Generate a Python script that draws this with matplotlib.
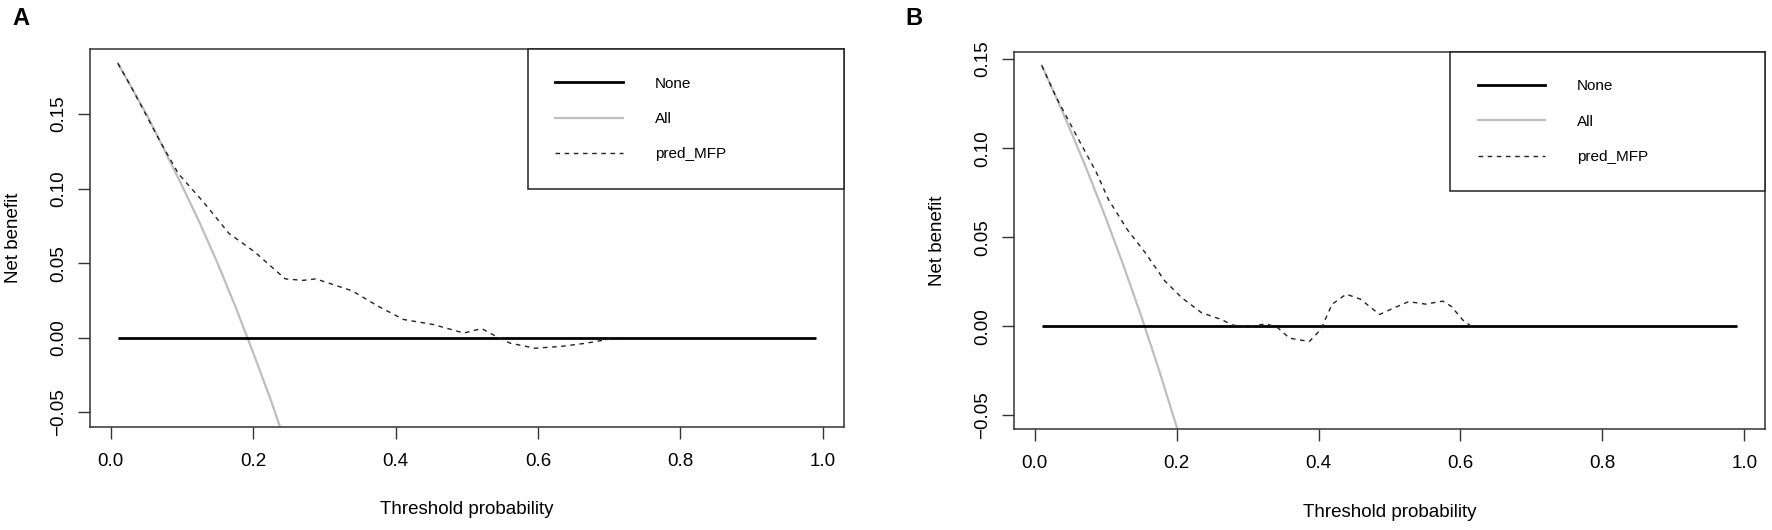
import matplotlib
matplotlib.use("Agg")
import matplotlib.pyplot as plt
from matplotlib.lines import Line2D

plt.rcParams['font.family'] = ['Liberation Sans', 'DejaVu Sans']

# ---------------- data ----------------
labels = ["None", "All", "pred_MFP"]
x_ticks = [0.0, 0.2, 0.4, 0.6, 0.8, 1.0]
y_ticks = [-0.05, 0.00, 0.05, 0.10, 0.15]

none_x = [0.01, 0.99]
none_y = [0.0, 0.0]

# Panel A
a_all_x = [0.01, 0.03, 0.05, 0.07, 0.10, 0.125, 0.15, 0.175, 0.20, 0.225, 0.25]
a_all_y = [0.184, 0.167, 0.150, 0.131, 0.102, 0.077, 0.050, 0.021, -0.010, -0.042, -0.077]
a_mfp_x = [0.01, 0.03, 0.05, 0.07, 0.095, 0.131, 0.166, 0.202, 0.245, 0.270, 0.288, 0.339,
           0.375, 0.411, 0.453, 0.496, 0.521, 0.543, 0.561, 0.596, 0.632, 0.668,
           0.700, 0.710]
a_mfp_y = [0.184, 0.167, 0.149, 0.131, 0.110, 0.0905, 0.070, 0.0576, 0.0395, 0.0385, 0.0395, 0.0315,
           0.0213, 0.0123, 0.0089, 0.0032, 0.0062, 0.0005, -0.0036, -0.0070, -0.0058, -0.0036,
           -0.0009, 0.0]
a_ylim = (-0.0596, 0.1936)

# Panel B
b_all_x = [0.01, 0.03, 0.05, 0.075, 0.10, 0.125, 0.15, 0.175, 0.20, 0.21]
b_all_y = [0.1464, 0.1288, 0.1104, 0.0864, 0.0610, 0.0342, 0.0058, -0.0244, -0.0564, -0.0696]
b_mfp_x = [0.01, 0.03, 0.059, 0.087, 0.104, 0.131, 0.155, 0.183, 0.207, 0.235, 0.263,
           0.279, 0.303, 0.327, 0.343, 0.359, 0.387, 0.403, 0.419, 0.439, 0.459,
           0.486, 0.507, 0.527, 0.551, 0.575, 0.587, 0.603, 0.615]
b_mfp_y = [0.1464, 0.1288, 0.107, 0.0863, 0.0711, 0.054, 0.0417, 0.0256, 0.0161, 0.0076, 0.0038,
           0.0006, 0.0, 0.0013, -0.001, -0.0067, -0.0086, -0.0019, 0.0123, 0.018, 0.0152,
           0.0066, 0.0104, 0.0138, 0.0124, 0.0141, 0.0112, 0.0036, 0.0]
b_ylim = (-0.0579, 0.1542)

x_lim = (-0.0292, 1.0292)

# ---------------- figure ----------------
W, H = 1772, 530
fig = plt.figure(figsize=(W / 100, H / 100), dpi=100)

def px_axes(l, r, t, b):
    return [l / W, 1 - b / H, (r - l) / W, (b - t) / H]

ax_a = fig.add_axes(px_axes(90, 843.5, 49, 426.7))
ax_b = fig.add_axes(px_axes(1014, 1765, 51.7, 429.3))

NONE_C = 'black'
ALL_C = '#bebebe'
FS = 13.5

def draw(ax, all_x, all_y, mfp_x, mfp_y, ylim):
    ax.plot(none_x, none_y, color=NONE_C, lw=2.0, solid_capstyle='butt', zorder=3)
    ax.plot(all_x, all_y, color=ALL_C, lw=1.6, zorder=2)
    ax.plot(mfp_x, mfp_y, color='#222222', lw=1.0, dashes=(3.3, 3.3), zorder=4)
    ax.set_xlim(*x_lim)
    ax.set_ylim(*ylim)
    ax.set_xticks(x_ticks)
    ax.set_xticklabels([f"{v:.1f}" for v in x_ticks], fontsize=FS)
    ax.set_yticks(y_ticks)
    ax.set_yticklabels([f"{v:.2f}".replace('-', '\u2212') for v in y_ticks], fontsize=FS)
    for lab in ax.get_yticklabels():
        lab.set_rotation(90)
        lab.set_va('center')
    ax.tick_params(axis='both', direction='out', length=8.6, width=1.0, color='#333333')
    ax.tick_params(axis='x', pad=10)
    ax.tick_params(axis='y', pad=8)
    for sp in ax.spines.values():
        sp.set_linewidth(1.1)
        sp.set_color('#333333')
    ax.set_xlabel("Threshold probability", fontsize=FS)
    ax.set_ylabel("Net benefit", fontsize=FS)
    ax.xaxis.set_label_coords(0.5, -0.197)
    ax.yaxis.set_label_coords(-0.102, 0.5)
    ax.yaxis.label.set_va('center')
    handles = [Line2D([], [], color=NONE_C, lw=2.0),
               Line2D([], [], color=ALL_C, lw=1.6),
               Line2D([], [], color='#222222', lw=1.0, dashes=(3.3, 3.3))]
    x0 = 0.581
    leg = ax.legend(handles, labels, loc='upper right', bbox_to_anchor=(x0, 0, 1 - x0, 1),
                    mode='expand', borderaxespad=0, fancybox=False, framealpha=1,
                    edgecolor='#222222', fontsize=11, handlelength=4.4,
                    handletextpad=2.1, labelspacing=1.40, borderpad=1.8)
    leg.get_frame().set_linewidth(1.1)

draw(ax_a, a_all_x, a_all_y, a_mfp_x, a_mfp_y, a_ylim)
draw(ax_b, b_all_x, b_all_y, b_mfp_x, b_mfp_y, b_ylim)

fig.text(12 / W, 1 - 25.4 / H, "A", fontsize=17, fontweight='bold', va='baseline', ha='left')
fig.text(905 / W, 1 - 25.4 / H, "B", fontsize=17, fontweight='bold', va='baseline', ha='left')

fig.savefig("out.png", dpi=100)
